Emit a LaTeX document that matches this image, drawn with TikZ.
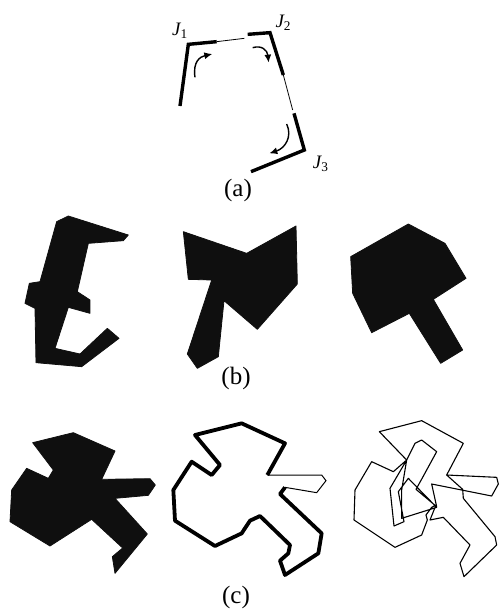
\documentclass[tikz,border=0pt]{standalone}
\usepackage{fontspec}
\setmainfont{Liberation Serif}
\usetikzlibrary{arrows.meta}
\begin{document}
\begin{tikzpicture}[x=1pt,y=-1pt,
  blob/.style={fill=black!94,draw=black!94,line join=round,line width=0.8},
  thickseg/.style={line width=3.4,line cap=butt},
  thinseg/.style={line width=0.8},
  captxt/.style={font=\fontsize{25}{28}\selectfont},
  jl/.style={font=\fontsize{19}{22}\selectfont\itshape},
  turnarrow/.style={line width=1.4,-{Latex[length=8,width=7]}}]
\useasboundingbox (0,0) rectangle (499,611);
% ---------------- (a)
\begin{scope}[shift={(150,0)},scale=1/3]
  \coordinate (s1) at (90,318);
  \coordinate (c1) at (115,133);
  \coordinate (t1) at (200,125);
  \coordinate (t2) at (283,115);
  \coordinate (t3) at (293,103);
  \coordinate (c2) at (360,98);
  \coordinate (r1) at (400,225);
  \coordinate (r2) at (428,330);
  \coordinate (r3) at (432,340);
  \coordinate (c3) at (463,450);
  \coordinate (e3) at (303,515);
  \draw[thickseg,line join=miter] (s1) -- (c1) -- (t1);
  \draw[thinseg] (t1) -- (t2);
  \draw[thickseg,line join=miter] (t3) -- (c2) -- (r1);
  \draw[thinseg] (r1) -- (r2);
  \draw[thickseg,line join=miter] (r3) -- (c3) -- (e3);
  \draw[turnarrow] (135,232) .. controls (128,185) and (150,170) .. (187,162);
  \draw[turnarrow] (308,143) .. controls (335,135) and (352,150) .. (356,188);
  \draw[turnarrow] (410,372) .. controls (428,410) and (405,445) .. (358,460);
  \node[jl] (j1) at (90,92) {J\textsubscript{\upshape 1}};
  \node[jl] (j2) at (400,68) {J\textsubscript{\upshape 2}};
  \node[jl] (j3) at (512,492) {J\textsubscript{\upshape 3}};
\end{scope}
\node[captxt] (la) at (238,190) {(a)};
% ---------------- (b)
\begin{scope}[shift={(0,210)},scale=1/3]
  \fill[blob] (170,35) -- (205,18) -- (385,75) -- (370,92) -- (265,100) -- (232,245)
    -- (270,270) -- (270,310) -- (205,292) -- (165,415) -- (240,432) -- (322,355)
    -- (357,385) -- (245,470) -- (108,458) -- (105,295) -- (75,280) -- (88,220)
    -- (120,215) -- cycle;
\end{scope}
\begin{scope}[shift={(170,210)},scale=1/3]
  \fill[blob] (40,65) -- (230,130) -- (378,48) -- (382,222) -- (262,358) -- (162,272)
    -- (145,440) -- (82,475) -- (52,432) -- (125,210) -- (55,208) -- cycle;
\end{scope}
\begin{scope}[shift={(330,210)},scale=1/3]
  \fill[blob] (235,42) -- (345,100) -- (408,205) -- (310,268) -- (398,420) -- (332,460)
    -- (238,310) -- (125,368) -- (68,250) -- (62,140) -- cycle;
\end{scope}
\node[captxt] (lb) at (236,378) {(b)};
% ---------------- (c)
\begin{scope}[shift={(0,390)},scale=1/3]
  \fill[blob] (98,158) -- (220,128) -- (345,183) -- (305,268) -- (450,266) -- (466,285)
    -- (445,316) -- (345,325) -- (442,432) -- (345,550) -- (337,500) -- (368,474)
    -- (275,388) -- (150,468) -- (30,395) -- (35,300) -- (80,235) -- (145,265)
    -- (160,240) -- cycle;
\end{scope}
\begin{scope}[shift={(170,390)},scale=1/3]
  \draw[line width=3.8,line join=round] (292,255) -- (345,160) -- (215,100) -- (75,135)
    -- (150,225) -- (125,255) -- (65,215) -- (10,300) -- (15,392) -- (135,468)
    -- (215,430) -- (240,392) -- (270,378) -- (360,465) -- (355,490) -- (330,512)
    -- (345,555) -- (445,490) -- (455,430) -- (330,312) -- (345,292);
  \draw[line width=1] (292,255) -- (455,255) -- (468,272) -- (440,308) -- (345,292);
\end{scope}
\begin{scope}[shift={(330,390)},scale=1/3]
  \draw[line width=1.1,line join=round] (230,210) -- (148,125) -- (275,92) -- (400,160)
    -- (350,255) -- (500,262) -- (505,282) -- (485,318) -- (305,282) -- (320,350)
    -- (258,298) -- (278,262) -- (320,185) -- (275,150) -- (255,160) -- (230,210)
    -- (180,295) -- (192,408) -- (222,395) -- (205,305) -- (235,265) -- (320,352)
    -- (215,385) -- (215,300) -- (230,210) -- (190,245) -- (125,215) -- (75,300)
    -- (72,390) -- (195,472) -- (275,435) -- (292,390) -- (288,375) -- (305,352)
    -- (318,345) -- (300,390) -- (340,382) -- (420,465) -- (390,520) -- (402,560)
    -- (500,465) -- (495,440) -- (400,325) -- (398,298) -- (350,255);
\end{scope}
\node[captxt] (lc) at (236,597) {(c)};
\end{tikzpicture}
\end{document}
